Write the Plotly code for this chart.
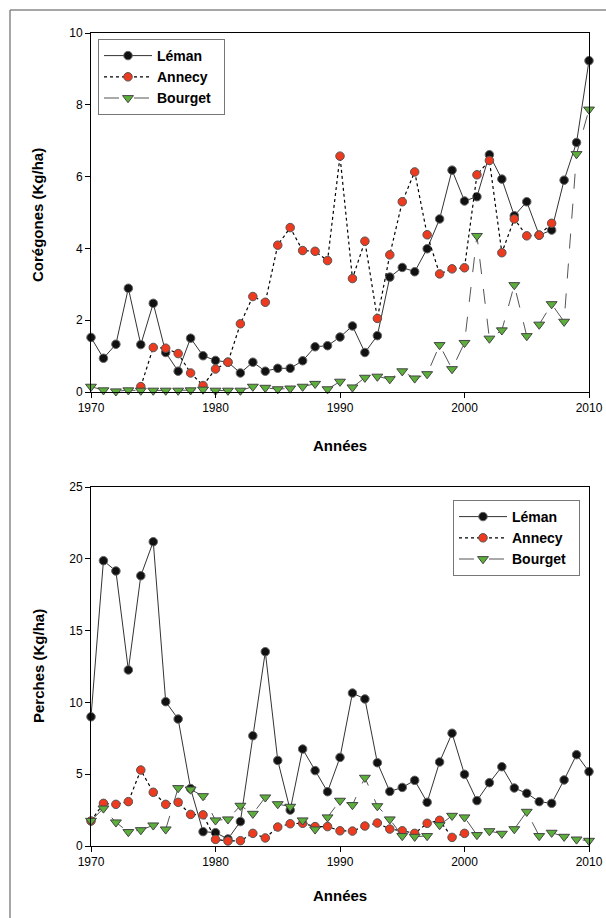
import plotly.graph_objects as go

# ---------------- data ----------------
years = list(range(1970, 2011))

# Corégones (Kg/ha)
cor_leman = [1.52, 0.94, 1.33, 2.89, 1.32, 2.47, 1.10, 0.58, 1.50, 1.01,
             0.88, 0.83, 0.53, 0.83, 0.58, 0.66, 0.66, 0.87, 1.26, 1.29,
             1.53, 1.84, 1.10, 1.57, 3.20, 3.47, 3.35, 3.99, 4.82, 6.18,
             5.32, 5.44, 6.61, 5.93, 4.91, 5.30, 4.37, 4.51, 5.90, 6.95,
             9.23]
cor_annecy_years = list(range(1974, 2008))
cor_annecy = [0.15, 1.24, 1.22, 1.07, 0.53, 0.18, 0.64, 0.83, 1.90, 2.66,
              2.50, 4.09, 4.58, 3.94, 3.92, 3.66, 6.57, 3.16, 4.20, 2.05,
              3.82, 5.30, 6.13, 4.38, 3.29, 3.43, 3.46, 6.05, 6.45, 3.88,
              4.82, 4.35, 4.37, 4.70]
cor_bourget = [0.15, 0.05, 0.02, 0.05, 0.04, 0.04, 0.04, 0.04, 0.05, 0.07,
               0.04, 0.04, 0.04, 0.15, 0.12, 0.08, 0.10, 0.15, 0.23, 0.08,
               0.29, 0.13, 0.40, 0.43, 0.36, 0.58, 0.38, 0.50, 1.31, 0.64,
               1.37, 4.35, 1.49, 1.72, 2.98, 1.56, 1.88, 2.45, 1.96, 6.63,
               7.87]

# Perches (Kg/ha)
per_leman = [9.0, 19.87, 19.15, 12.26, 18.82, 21.19, 10.05, 8.84, 4.0, 1.0,
             0.93, 0.49, 1.70, 7.68, 13.53, 5.96, 2.50, 6.75, 5.25, 3.78,
             6.17, 10.65, 10.24, 5.80, 3.80, 4.08, 4.57, 3.04, 5.85, 7.85,
             4.99, 3.16, 4.41, 5.52, 4.04, 3.67, 3.09, 2.97, 4.60, 6.36,
             5.18]
per_annecy_years = list(range(1970, 2001))
per_annecy = [1.74, 2.97, 2.90, 3.09, 5.29, 3.74, 2.90, 3.04, 2.20, 2.17,
              0.46, 0.35, 0.37, 0.88, 0.56, 1.32, 1.55, 1.58, 1.35, 1.35,
              1.06, 1.04, 1.39, 1.60, 1.18, 1.06, 0.88, 1.58, 1.79, 0.60,
              0.88]
per_bourget = [1.76, 2.62, 1.65, 0.98, 1.11, 1.44, 1.16, 4.04, 3.94, 3.48,
               1.79, 1.86, 2.81, 2.25, 3.39, 2.92, 2.74, 1.79, 1.16, 2.00,
               3.16, 2.86, 4.76, 2.78, 1.86, 0.70, 0.65, 0.70, 1.46, 2.11,
               2.00, 0.77, 1.04, 0.86, 1.18, 2.39, 0.70, 0.93, 0.65, 0.46,
               0.37]

names = ["Léman", "Annecy", "Bourget"]
x_ticks = [1970, 1980, 1990, 2000, 2010]

# ---------------- styles ----------------
W, H = 606, 918
FONT = "Liberation Sans, Arial, sans-serif"
RED = "#EE3A1E"
GREEN = "#5BAF3A"
PAD = "\u00a0\u00a0"


def px_x(p):
    return p / W


def px_y(p):
    return 1 - p / H


styles = {
    "Léman": dict(line=dict(color="#333333", width=1, dash="solid"),
                  marker=dict(symbol="circle", size=8.5, color="#111111",
                              line=dict(color="#666666", width=1))),
    "Annecy": dict(line=dict(color="#000000", width=1.2, dash="dot"),
                   marker=dict(symbol="circle", size=8.5, color=RED,
                               line=dict(color="#555555", width=1))),
    "Bourget": dict(line=dict(color="#555555", width=1, dash="longdash"),
                    marker=dict(symbol="triangle-down", size=9.5, color=GREEN,
                                line=dict(color="#444444", width=1))),
}

fig = go.Figure()

series_top = [(years, cor_leman), (cor_annecy_years, cor_annecy), (years, cor_bourget)]
series_bot = [(years, per_leman), (per_annecy_years, per_annecy), (years, per_bourget)]

for name, (xs, ys) in zip(names, series_top):
    fig.add_trace(go.Scatter(x=xs, y=ys, mode="lines+markers", name=name + PAD,
                             xaxis="x", yaxis="y", legend="legend",
                             cliponaxis=False, **styles[name]))
for name, (xs, ys) in zip(names, series_bot):
    fig.add_trace(go.Scatter(x=xs, y=ys, mode="lines+markers", name=name + PAD,
                             xaxis="x2", yaxis="y2", legend="legend2",
                             cliponaxis=False, **styles[name]))

xdom = [px_x(91), px_x(589)]
axis_common = dict(showline=True, linecolor="black", linewidth=1, mirror=True,
                   ticks="outside", ticklen=5, tickcolor="black", tickwidth=1,
                   showgrid=False, zeroline=False, automargin=False,
                   tickfont=dict(family=FONT, size=12, color="black"))

legend_common = dict(xanchor="left", yanchor="top",
                     bgcolor="white", bordercolor="#777777", borderwidth=1,
                     font=dict(family=FONT, size=14, color="black", weight="bold"),
                     itemwidth=48, tracegroupgap=0, itemclick=False)

fig.update_layout(
    template="none",
    width=W, height=H,
    margin=dict(l=0, r=0, t=0, b=0, pad=0, autoexpand=False),
    paper_bgcolor="white", plot_bgcolor="white",
    font=dict(family=FONT, color="black"),
    hovermode=False,
    xaxis=dict(domain=xdom, range=[1970, 2010], tickvals=x_ticks, anchor="y", **axis_common),
    yaxis=dict(domain=[px_y(392), px_y(33)], range=[0, 10], tickvals=[0, 2, 4, 6, 8, 10],
               anchor="x", **axis_common),
    xaxis2=dict(domain=xdom, range=[1970, 2010], tickvals=x_ticks, anchor="y2", **axis_common),
    yaxis2=dict(domain=[px_y(846), px_y(487)], range=[0, 25], tickvals=[0, 5, 10, 15, 20, 25],
                anchor="x2", **axis_common),
    legend=dict(x=px_x(98), y=px_y(39), **legend_common),
    legend2=dict(x=px_x(453), y=px_y(500), **legend_common),
)

title_font = dict(family=FONT, size=15, color="black", weight="bold")
annotations = [
    dict(text="Années", x=px_x(340), y=px_y(445), xref="paper", yref="paper",
         showarrow=False, font=title_font, xanchor="center", yanchor="middle"),
    dict(text="Années", x=px_x(340), y=px_y(895), xref="paper", yref="paper",
         showarrow=False, font=title_font, xanchor="center", yanchor="middle"),
    dict(text="Corégones (Kg/ha)", x=px_x(38), y=px_y(215), xref="paper", yref="paper",
         showarrow=False, font=title_font, textangle=-90, xanchor="center", yanchor="middle"),
    dict(text="Perches (Kg/ha)", x=px_x(38), y=px_y(666), xref="paper", yref="paper",
         showarrow=False, font=title_font, textangle=-90, xanchor="center", yanchor="middle"),
]
fig.update_layout(annotations=annotations)

# outer frame (top and left edges)
fig.add_shape(type="line", xref="paper", yref="paper", x0=px_x(10), x1=1.0,
              y0=px_y(10), y1=px_y(10), line=dict(color="#888888", width=1.5))
fig.add_shape(type="line", xref="paper", yref="paper", x0=px_x(10), x1=px_x(10),
              y0=px_y(10), y1=0, line=dict(color="#888888", width=1.5))

fig.write_html("out.html")
